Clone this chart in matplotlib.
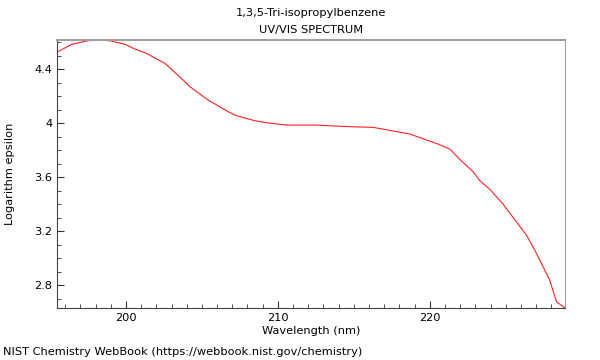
import matplotlib
matplotlib.use("Agg")
import matplotlib.pyplot as plt
from matplotlib.ticker import MultipleLocator, FuncFormatter

wavelength = [195.44, 196.43, 197.52, 198.40, 199.06, 199.93, 200.59, 201.36, 202.02, 202.57,
              203.88, 204.21, 205.41, 206.73, 207.28, 208.49, 209.26, 210.57, 212.43, 214.74,
              216.27, 218.68, 220.55, 221.32, 221.97, 222.85, 223.29, 223.95, 224.82, 225.48,
              226.36, 227.02, 227.89, 228.34, 228.88]
log_eps = [4.524, 4.583, 4.610, 4.615, 4.607, 4.583, 4.548, 4.516, 4.474, 4.442,
           4.306, 4.269, 4.170, 4.084, 4.054, 4.017, 4.002, 3.985, 3.985, 3.973,
           3.968, 3.919, 3.844, 3.807, 3.731, 3.639, 3.573, 3.509, 3.400, 3.301,
           3.170, 3.035, 2.837, 2.676, 2.632]
x_ticks = [200, 210, 220]
y_ticks = [2.8, 3.2, 3.6, 4.0, 4.4]

fs = 8.2
fig = plt.figure(figsize=(6, 3.6), dpi=100)
ax = fig.add_axes([57/600, 1-308/360, (565-57)/600, (308-40)/360])
ax.plot(wavelength, log_eps, color='#ff2020', lw=0.8)
ax.set_xlim(195.46, 228.9)
ax.set_ylim(2.63, 4.615)
ax.set_xticks(x_ticks)
ax.set_yticks(y_ticks)
ax.xaxis.set_minor_locator(MultipleLocator(1))
ax.yaxis.set_minor_locator(MultipleLocator(0.1))
ax.yaxis.set_major_formatter(FuncFormatter(lambda v, p: f"{v:g}"))
ax.tick_params(which='both', direction='in', labelsize=fs, colors='#333333', labelcolor='black', top=False, right=False)
ax.tick_params(which='major', length=5)
ax.tick_params(which='minor', length=3)
for s in ['top', 'right']:
    ax.spines[s].set_color('#a0a0a0')
ax.spines['top'].set_linewidth(1.5)
ax.spines['right'].set_linewidth(0.8)
for s in ['left', 'bottom']:
    ax.spines[s].set_color('#444444')
ax.set_xlabel('Wavelength (nm)', fontsize=fs, labelpad=2)
ax.set_ylabel('Logarithm epsilon', fontsize=fs)
ax.yaxis.set_label_coords((15-57)/508, 0.5)
fig.text(311/600, 1-13/360, '1,3,5-Tri-isopropylbenzene', ha='center', va='center', fontsize=fs)
fig.text(311/600, 1-30/360, 'UV/VIS SPECTRUM', ha='center', va='center', fontsize=fs)
fig.text(3/600, 1-352/360, 'NIST Chemistry WebBook (https://webbook.nist.gov/chemistry)', ha='left', va='center', fontsize=fs)
fig.savefig('out.png', dpi=100)
